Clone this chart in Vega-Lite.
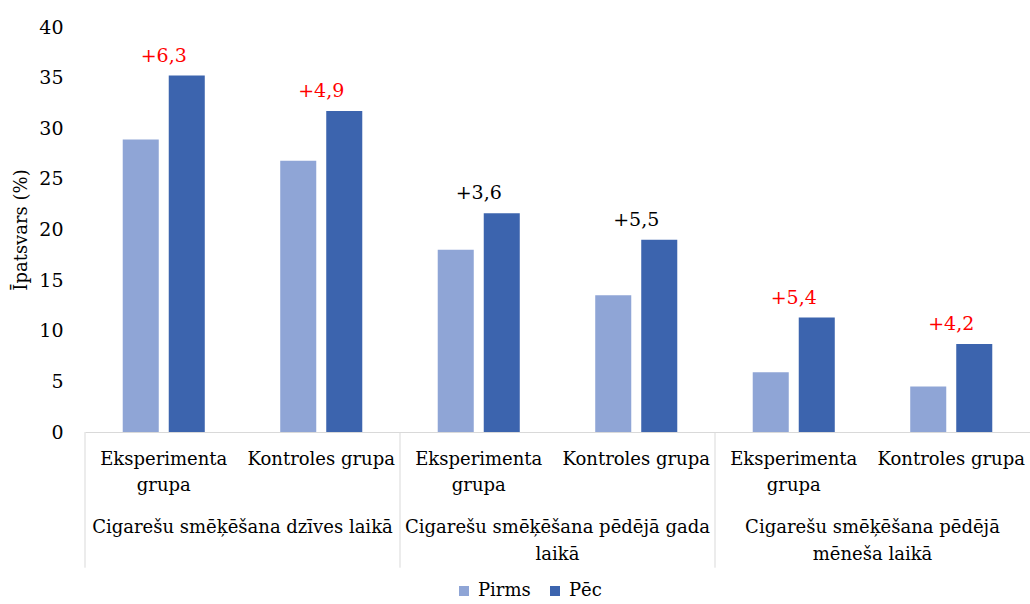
{
  "$schema": "https://vega.github.io/schema/vega-lite/v6.json",
  "width": 945,
  "height": 405,
  "autosize": {"type": "none"},
  "padding": {"left": 85, "top": 27, "right": 0, "bottom": 172},
  "background": "white",
  "config": {
    "font": "DejaVu Serif",
    "view": {"stroke": null},
    "text": {"font": "DejaVu Serif"},
    "axis": {"labelFont": "DejaVu Serif", "titleFont": "DejaVu Serif"},
    "legend": {"labelFont": "DejaVu Serif"}
  },
  "datasets": {
    "bars": [
      {"cat": "1 Eksperimenta grupa", "series": "Pirms", "value": 28.9},
      {"cat": "1 Eksperimenta grupa", "series": "Pēc", "value": 35.2},
      {"cat": "1 Kontroles grupa", "series": "Pirms", "value": 26.8},
      {"cat": "1 Kontroles grupa", "series": "Pēc", "value": 31.7},
      {"cat": "2 Eksperimenta grupa", "series": "Pirms", "value": 18.0},
      {"cat": "2 Eksperimenta grupa", "series": "Pēc", "value": 21.6},
      {"cat": "2 Kontroles grupa", "series": "Pirms", "value": 13.5},
      {"cat": "2 Kontroles grupa", "series": "Pēc", "value": 19.0},
      {"cat": "3 Eksperimenta grupa", "series": "Pirms", "value": 5.9},
      {"cat": "3 Eksperimenta grupa", "series": "Pēc", "value": 11.3},
      {"cat": "3 Kontroles grupa", "series": "Pirms", "value": 4.5},
      {"cat": "3 Kontroles grupa", "series": "Pēc", "value": 8.7}
    ],
    "ann": [
      {"cat": "1 Eksperimenta grupa", "after": 35.2, "label": "+6,3", "highlight": true},
      {"cat": "1 Kontroles grupa", "after": 31.7, "label": "+4,9", "highlight": true},
      {"cat": "2 Eksperimenta grupa", "after": 21.6, "label": "+3,6", "highlight": false},
      {"cat": "2 Kontroles grupa", "after": 19.0, "label": "+5,5", "highlight": false},
      {"cat": "3 Eksperimenta grupa", "after": 11.3, "label": "+5,4", "highlight": true},
      {"cat": "3 Kontroles grupa", "after": 8.7, "label": "+4,2", "highlight": true}
    ],
    "groups": [
      {"period": "1", "label": "Cigarešu smēķēšana dzīves laikā"},
      {"period": "2", "label": "Cigarešu smēķēšana pēdējā gada\nlaikā"},
      {"period": "3", "label": "Cigarešu smēķēšana pēdējā\nmēneša laikā"}
    ]
  },
  "layer": [
    {
      "data": {"name": "bars"},
      "mark": {"type": "bar"},
      "encoding": {
        "x": {
          "field": "cat",
          "type": "nominal",
          "sort": ["1 Eksperimenta grupa", "1 Kontroles grupa", "2 Eksperimenta grupa", "2 Kontroles grupa", "3 Eksperimenta grupa", "3 Kontroles grupa"],
          "scale": {"paddingInner": 0, "paddingOuter": 0},
          "axis": {
            "title": null,
            "labelAngle": 0,
            "ticks": false,
            "domainColor": "#d9d9d9",
            "domainWidth": 1,
            "labelFont": "DejaVu Serif",
            "labelFontSize": 18,
            "labelColor": "#000000",
            "labelPadding": 18,
            "labelLineHeight": 26,
            "labelLimit": 300,
            "labelExpr": "indexof(datum.value, 'Eksperimenta') >= 0 ? ['Eksperimenta', 'grupa'] : 'Kontroles grupa'"
          }
        },
        "xOffset": {
          "field": "series",
          "sort": ["Pirms", "Pēc"],
          "scale": {"paddingInner": 0.217, "paddingOuter": 0.82}
        },
        "y": {
          "field": "value",
          "type": "quantitative",
          "scale": {"domain": [0, 40]},
          "axis": {
            "title": "Īpatsvars (%)",
            "titleFont": "DejaVu Serif",
            "titleFontSize": 18,
            "titleFontWeight": "normal",
            "titleColor": "#000000",
            "titlePadding": 8,
            "values": [0, 5, 10, 15, 20, 25, 30, 35, 40],
            "domain": false,
            "ticks": false,
            "grid": false,
            "labelFont": "DejaVu Serif",
            "labelFontSize": 19,
            "labelColor": "#000000",
            "labelPadding": 22
          }
        },
        "color": {
          "field": "series",
          "type": "nominal",
          "scale": {"domain": ["Pirms", "Pēc"], "range": ["#8FA5D6", "#3C64AE"]},
          "legend": {
            "title": null,
            "orient": "none",
            "direction": "horizontal",
            "legendX": 370,
            "legendY": 555,
            "symbolType": "square",
            "symbolSize": 100,
            "symbolStrokeWidth": 0,
            "labelFont": "DejaVu Serif",
            "labelFontSize": 18,
            "labelColor": "#000000",
            "labelOffset": 5,
            "columnPadding": 15
          }
        }
      }
    },
    {
      "data": {"name": "ann"},
      "mark": {"type": "text", "font": "DejaVu Serif", "fontSize": 19, "baseline": "middle", "dy": -20},
      "encoding": {
        "x": {
          "field": "cat",
          "type": "nominal",
          "sort": ["1 Eksperimenta grupa", "1 Kontroles grupa", "2 Eksperimenta grupa", "2 Kontroles grupa", "3 Eksperimenta grupa", "3 Kontroles grupa"],
          "scale": {"paddingInner": 0, "paddingOuter": 0},
          "axis": null
        },
        "y": {"field": "after", "type": "quantitative"},
        "text": {"field": "label"},
        "color": {"condition": {"test": "datum.highlight", "value": "#FF0000"}, "value": "#000000"}
      }
    },
    {
      "data": {"name": "groups"},
      "mark": {"type": "rule", "color": "#d9d9d9", "strokeWidth": 1},
      "encoding": {
        "x": {
          "field": "period",
          "type": "nominal",
          "bandPosition": 0,
          "scale": {"paddingInner": 0, "paddingOuter": 0},
          "axis": null
        },
        "y": {"datum": 0, "type": "quantitative"},
        "y2": {"datum": -13.4}
      }
    },
    {
      "data": {"name": "groups"},
      "mark": {"type": "text", "font": "DejaVu Serif", "fontSize": 18, "baseline": "alphabetic", "lineBreak": "\n", "lineHeight": 27, "color": "#000000"},
      "encoding": {
        "x": {
          "field": "period",
          "type": "nominal",
          "scale": {"paddingInner": 0, "paddingOuter": 0},
          "axis": null
        },
        "y": {"datum": -10, "type": "quantitative"},
        "text": {"field": "label"}
      }
    }
  ],
  "resolve": {"scale": {"x": "independent"}, "axis": {"x": "independent"}}
}
